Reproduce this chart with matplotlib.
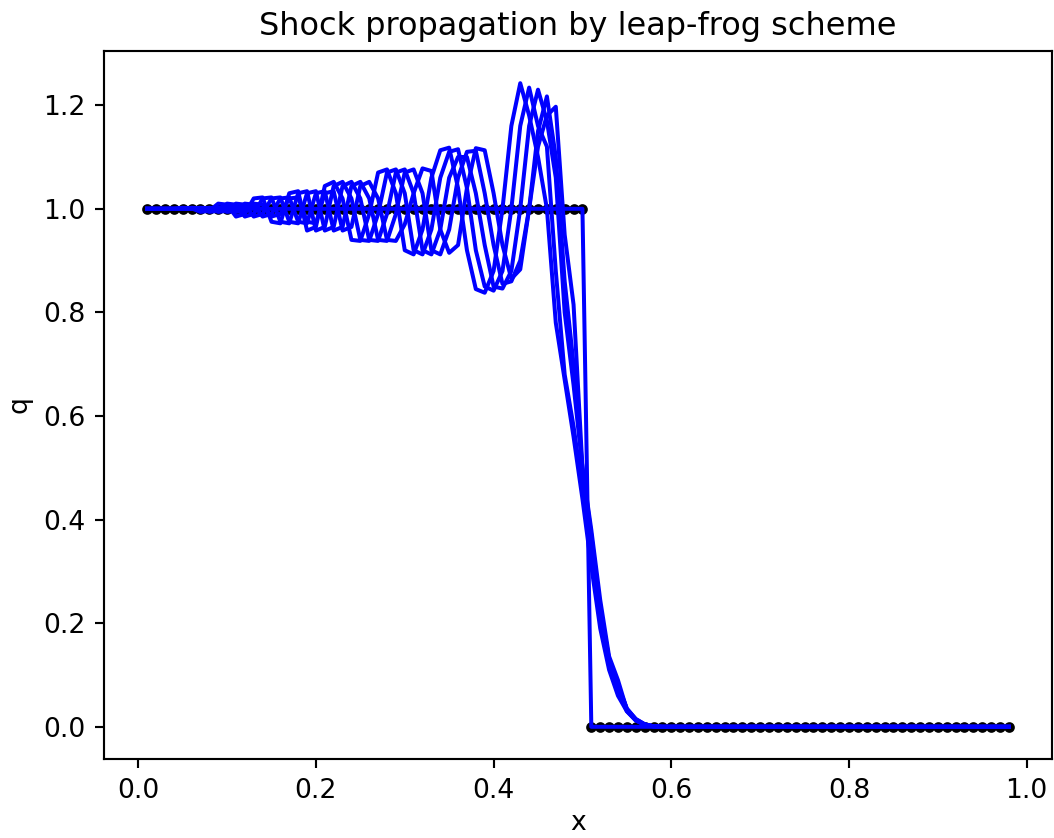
import numpy as np
import matplotlib
matplotlib.use("Agg")
import matplotlib.pyplot as plt

# grid
x = np.arange(1, 99) / 100.0

# initial condition
q0 = [1.0] * 50 + [0.0] * 48

# numerical solutions at several times, i = 1..60 then zeros
qA = [1.0, 1.0, 1.0, 1.0, 1.002, 1.001, 0.994, 0.996, 1.01, 1.008,
      0.985, 0.99, 1.02, 1.022, 0.975, 0.972, 1.03, 1.034, 0.958, 0.965,
      1.044, 1.052, 1.02, 0.94, 0.938, 0.99, 1.07, 1.076, 1.03, 0.92,
      0.912, 0.96, 1.06, 1.113, 1.118, 1.04, 0.92, 0.845, 0.838, 0.88,
      1.0, 1.16, 1.2425, 1.18, 1.10, 1.0, 0.78, 0.67, 0.56, 0.44,
      0.31, 0.19, 0.11, 0.06, 0.03, 0.012, 0.004, 0.001, 0.0, 0.0] + [0.0] * 38
qB = [1.0, 1.0, 1.0, 1.0, 1.0, 1.002, 1.001, 0.994, 0.996, 1.01,
      1.008, 0.985, 0.99, 1.02, 1.022, 0.975, 0.972, 1.03, 1.034, 0.958,
      0.965, 1.044, 1.052, 1.02, 0.94, 0.938, 0.99, 1.07, 1.076, 1.03,
      0.92, 0.912, 0.96, 1.06, 1.11, 1.115, 1.04, 0.92, 0.85, 0.842,
      0.88, 1.0, 1.16, 1.234, 1.16, 1.12, 0.88, 0.68, 0.58, 0.46,
      0.33, 0.21, 0.12, 0.07, 0.03, 0.013, 0.004, 0.001, 0.0, 0.0] + [0.0] * 38
qC = [1.0, 1.0, 1.0, 1.0, 1.0, 1.0, 1.002, 1.001, 0.994, 0.996,
      1.01, 1.008, 0.985, 0.99, 1.02, 1.022, 0.975, 0.972, 1.03, 1.034,
      0.958, 0.965, 1.044, 1.052, 1.02, 0.94, 0.938, 0.99, 1.07, 1.076,
      1.03, 0.92, 0.912, 0.96, 1.06, 1.10, 1.10, 1.03, 0.93, 0.85,
      0.846, 0.88, 1.0, 1.16, 1.23, 1.17, 1.06, 0.80, 0.66, 0.50,
      0.36, 0.23, 0.13, 0.08, 0.035, 0.015, 0.005, 0.001, 0.0, 0.0] + [0.0] * 38
qD = [1.0, 1.0, 1.0, 1.0, 1.0, 1.0, 1.0, 1.002, 1.001, 0.994,
      0.996, 1.01, 1.008, 0.985, 0.99, 1.02, 1.022, 0.975, 0.972, 1.03,
      1.034, 0.958, 0.965, 1.044, 1.052, 1.02, 0.94, 0.938, 0.99, 1.07,
      1.076, 1.03, 0.92, 0.912, 0.96, 1.06, 1.11, 1.112, 1.03, 0.93,
      0.855, 0.86, 0.90, 1.0, 1.15, 1.217, 1.10, 0.86, 0.70, 0.50,
      0.37, 0.23, 0.13, 0.08, 0.035, 0.015, 0.005, 0.001, 0.0, 0.0] + [0.0] * 38
qE = [1.0, 1.0, 1.0, 1.0, 1.0, 1.0, 1.0, 1.0, 1.002, 1.001,
      0.994, 0.996, 1.01, 1.008, 0.985, 0.99, 1.02, 1.022, 0.975, 0.972,
      1.03, 1.034, 0.958, 0.965, 1.044, 1.052, 1.02, 0.94, 0.938, 0.97,
      1.03, 1.078, 1.073, 0.96, 0.915, 0.93, 1.04, 1.117, 1.113, 1.03,
      0.93, 0.865, 0.883, 1.0, 1.12, 1.18, 1.197, 0.95, 0.815, 0.50,
      0.38, 0.245, 0.136, 0.09, 0.033, 0.013, 0.004, 0.001, 0.0, 0.0] + [0.0] * 38

curves = [q0, qA, qB, qC, qD, qE]

DPI = 192
fig = plt.figure(figsize=(1054 / DPI, 838 / DPI), dpi=DPI)
ax = fig.add_axes([104 / 1054, 79 / 838, 948 / 1054, 708 / 838])

ax.plot(x, q0, 'k.')
for q in curves:
    ax.plot(x, q, '-', color='b', linewidth=1.5)

ax.set_title("Shock propagation by leap-frog scheme", fontsize=12)
ax.set_xlabel("x", fontsize=10, labelpad=2.5)
ax.set_ylabel("q", fontsize=10)
ax.tick_params(labelsize=10)

fig.savefig("out.png", dpi=DPI)
